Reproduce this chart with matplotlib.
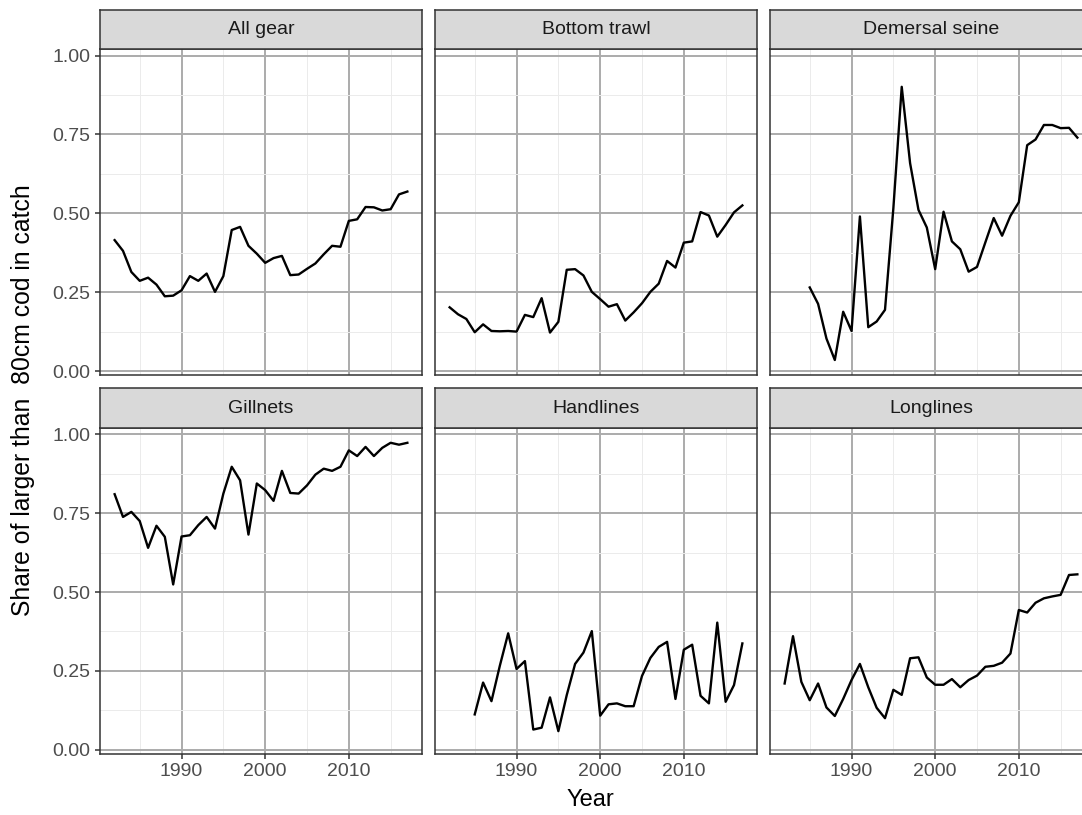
import numpy as np
import matplotlib
matplotlib.use("Agg")
import matplotlib.pyplot as plt

plt.rcParams['font.family'] = ['Liberation Sans', 'DejaVu Sans']

# data
panels = ["All gear", "Bottom trawl", "Demersal seine", "Gillnets", "Handlines", "Longlines"]

years_all = list(range(1982, 2018))
years_85 = list(range(1985, 2018))

all_gear = [0.415, 0.381, 0.314, 0.286, 0.296, 0.274, 0.237, 0.239, 0.256, 0.301,
            0.286, 0.309, 0.251, 0.301, 0.447, 0.457, 0.397, 0.372, 0.343, 0.358,
            0.365, 0.304, 0.306, 0.324, 0.341, 0.370, 0.397, 0.394, 0.476, 0.481,
            0.520, 0.519, 0.509, 0.513, 0.560, 0.569]
bottom_trawl = [0.202, 0.180, 0.165, 0.123, 0.148, 0.127, 0.126, 0.127, 0.125, 0.178,
                0.171, 0.231, 0.122, 0.156, 0.321, 0.323, 0.303, 0.251, 0.228, 0.204,
                0.212, 0.160, 0.186, 0.215, 0.251, 0.277, 0.349, 0.328, 0.407, 0.411,
                0.504, 0.493, 0.426, 0.463, 0.503, 0.525]
demersal_seine = [0.265, 0.213, 0.103, 0.035, 0.188, 0.127, 0.490, 0.139, 0.157, 0.194,
                  0.516, 0.901, 0.659, 0.511, 0.455, 0.323, 0.505, 0.411, 0.386, 0.315,
                  0.330, 0.408, 0.485, 0.429, 0.492, 0.535, 0.716, 0.734, 0.780, 0.780,
                  0.770, 0.771, 0.740]
gillnets = [0.810, 0.738, 0.754, 0.725, 0.640, 0.710, 0.675, 0.524, 0.676, 0.680,
            0.712, 0.738, 0.701, 0.812, 0.897, 0.854, 0.682, 0.844, 0.823, 0.789,
            0.884, 0.814, 0.812, 0.838, 0.872, 0.891, 0.884, 0.897, 0.949, 0.931,
            0.960, 0.931, 0.957, 0.973, 0.967, 0.973]
handlines = [0.112, 0.213, 0.154, 0.266, 0.369, 0.256, 0.281, 0.064, 0.070, 0.166,
             0.059, 0.173, 0.272, 0.308, 0.376, 0.108, 0.144, 0.147, 0.138, 0.138,
             0.234, 0.291, 0.326, 0.342, 0.161, 0.317, 0.333, 0.171, 0.147, 0.403,
             0.152, 0.205, 0.337]
longlines = [0.210, 0.360, 0.215, 0.157, 0.210, 0.134, 0.107, 0.161, 0.221, 0.272,
             0.198, 0.133, 0.100, 0.190, 0.174, 0.290, 0.293, 0.229, 0.206, 0.206,
             0.224, 0.198, 0.221, 0.235, 0.263, 0.266, 0.276, 0.305, 0.443, 0.435,
             0.466, 0.480, 0.486, 0.491, 0.554, 0.556]

series = [(years_all, all_gear), (years_all, bottom_trawl), (years_85, demersal_seine),
          (years_all, gillnets), (years_85, handlines), (years_all, longlines)]

y_ticks = [0.0, 0.25, 0.5, 0.75, 1.0]
y_ticklabels = ["0.00", "0.25", "0.50", "0.75", "1.00"]
x_ticks = [1990, 2000, 2010]

W, H = 1082, 815
fig = plt.figure(figsize=(W / 100, H / 100), dpi=100)

col_left = [100, 435, 770]
panel_w = 322
row_top = [49.3, 428]
panel_h = 325.5
strip_h = 39.5

# shared limits like ggplot fixed scales with 5% expansion
ymin = min(min(s[1]) for s in series)
ymax = max(max(s[1]) for s in series)
yr = ymax - ymin
ylim = (ymin - 0.05 * yr, ymax + 0.05 * yr)
xlim = (1982 - 0.05 * 35, 2017 + 0.05 * 35)

border = "#333333"
for i, (name, (xs, ys)) in enumerate(zip(panels, series)):
    r, c = divmod(i, 3)
    left = col_left[c] / W
    bottom = 1 - (row_top[r] + panel_h) / H
    ax = fig.add_axes([left, bottom, panel_w / W, panel_h / H])
    ax.set_xlim(xlim)
    ax.set_ylim(ylim)
    ax.set_xticks(x_ticks)
    ax.set_xticks([1985, 1995, 2005, 2015], minor=True)
    ax.set_yticks(y_ticks)
    ax.set_yticks([0.125, 0.375, 0.625, 0.875], minor=True)
    ax.grid(which="minor", color="#EBEBEB", lw=0.7)
    ax.grid(which="major", color="#ABABAB", lw=1.4)
    ax.set_axisbelow(True)
    ax.plot(xs, ys, color="black", lw=1.7, solid_joinstyle="round")
    for sp in ax.spines.values():
        sp.set_color(border)
        sp.set_linewidth(1.1)
    ax.tick_params(which="minor", length=0)
    ax.tick_params(which="major", length=3.6, width=1.1, color=border,
                   labelcolor="#4D4D4D", labelsize=14, pad=3.5)
    if c == 0:
        ax.set_yticklabels(y_ticklabels)
    else:
        ax.tick_params(axis="y", which="major", left=False, labelleft=False)
    if r == 1:
        ax.set_xticklabels([str(x) for x in x_ticks])
    else:
        ax.tick_params(axis="x", which="major", bottom=False, labelbottom=False)

    # strip on top
    sax = fig.add_axes([left, 1 - row_top[r] / H, panel_w / W, strip_h / H])
    sax.set_facecolor("#D9D9D9")
    sax.set_xticks([])
    sax.set_yticks([])
    for sp in sax.spines.values():
        sp.set_color(border)
        sp.set_linewidth(1.1)
    sax.text(0.5, 0.5, name, ha="center", va="center", fontsize=14,
             color="#1A1A1A", transform=sax.transAxes)

fig.text(590 / W, 1 - 800 / H, "Year", ha="center", va="center", fontsize=17)
fig.text(23 / W, 1 - 400.5 / H, "Share of larger than  80cm cod in catch",
         ha="center", va="center", rotation=90, fontsize=17.8)

fig.savefig("out.png", dpi=100)
